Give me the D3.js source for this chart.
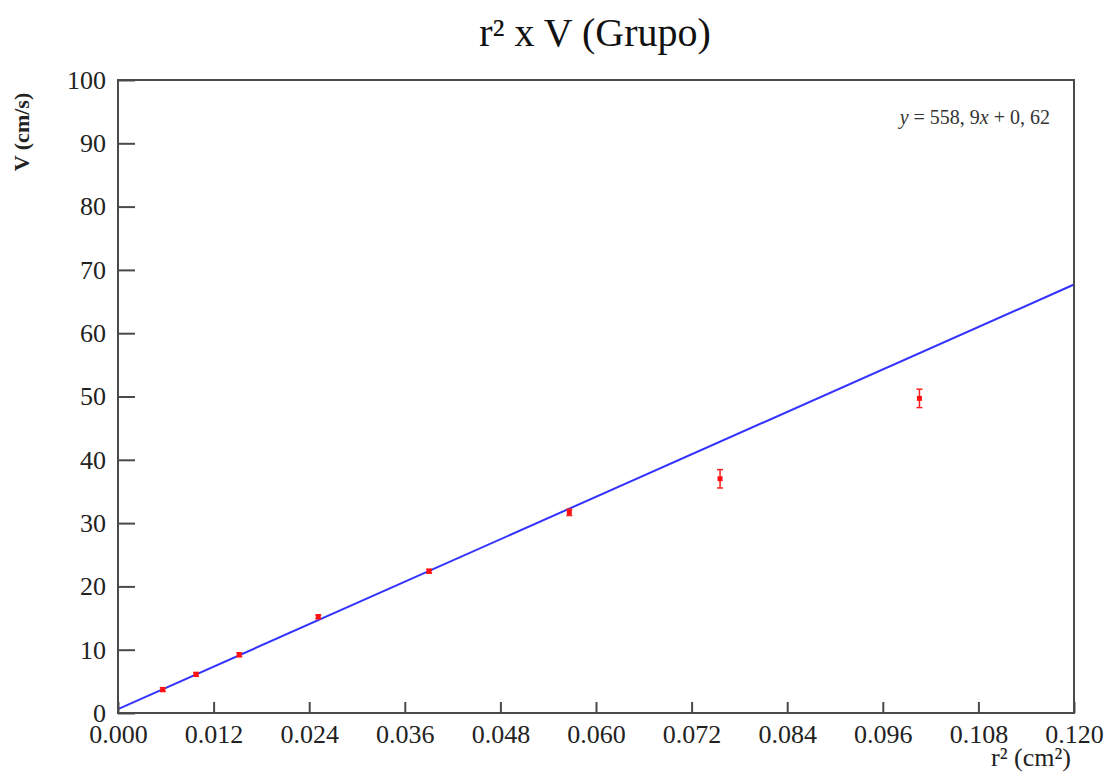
<!DOCTYPE html>
<html><head><meta charset="utf-8">
<script src="https://cdn.jsdelivr.net/npm/d3@7"></script>
<style>body{margin:0;background:#fff}svg{display:block}</style>
</head><body>
<svg id="chart" width="1107" height="772"></svg>
<script>
const rSquared = [0.00562, 0.00980, 0.01522, 0.02514, 0.03905, 0.05665, 0.07557, 0.10060];
const velocity = [3.7, 6.1, 9.2, 15.2, 22.4, 31.7, 37.0, 49.7];
const velocityErr = [0.3, 0.3, 0.3, 0.3, 0.3, 0.5, 1.45, 1.45];
const xTicks = [0, 0.012, 0.024, 0.036, 0.048, 0.060, 0.072, 0.084, 0.096, 0.108, 0.120];
const yTicks = [0, 10, 20, 30, 40, 50, 60, 70, 80, 90, 100];
const fitSlope = 558.9, fitIntercept = 0.62;

const svg = d3.select("#chart");
const L = 118, R = 1074, T = 80, B = 713;
const x = d3.scaleLinear().domain([0, 0.12]).range([L, R]);
const y = d3.scaleLinear().domain([0, 100]).range([B, T]);
const serif = "'Liberation Serif','Times New Roman',serif";
const frameCol = "#4a4a4a";

// fit line
svg.append("line")
  .attr("x1", x(0)).attr("y1", y(fitIntercept))
  .attr("x2", x(0.12)).attr("y2", y(fitSlope*0.12 + fitIntercept))
  .attr("stroke", "#3333ff").attr("stroke-width", 2);

// error bars and points
const pts = svg.append("g");
rSquared.forEach((rx, i) => {
  const cx = x(rx), vy = velocity[i], e = velocityErr[i];
  pts.append("line").attr("x1", cx).attr("x2", cx)
    .attr("y1", y(vy - e)).attr("y2", y(vy + e))
    .attr("stroke", "#ff2020").attr("stroke-width", 1.5);
  [vy - e, vy + e].forEach(v => pts.append("line")
    .attr("x1", cx - 3).attr("x2", cx + 3).attr("y1", y(v)).attr("y2", y(v))
    .attr("stroke", "#ff2020").attr("stroke-width", 1.5));
  pts.append("rect").attr("x", cx - 2.5).attr("y", y(vy) - 2.5)
    .attr("width", 5).attr("height", 5).attr("fill", "#ff1010");
});

// frame
svg.append("rect").attr("x", L).attr("y", T).attr("width", R - L).attr("height", B - T)
  .attr("fill", "none").attr("stroke", frameCol).attr("stroke-width", 2);

// axes
const xAxis = d3.axisBottom(x).tickValues(xTicks).tickSize(-11).tickPadding(12)
  .tickFormat(d3.format(".3f"));
const gx = svg.append("g").attr("transform", `translate(0,${B})`).call(xAxis);
const yAxis = d3.axisLeft(y).tickValues(yTicks).tickSize(-17).tickPadding(12);
const gy = svg.append("g").attr("transform", `translate(${L},0)`).call(yAxis);
[gx, gy].forEach(g => {
  g.select(".domain").remove();
  g.selectAll(".tick line").attr("stroke", frameCol).attr("stroke-width", 2);
  g.selectAll(".tick text").attr("font-family", serif).attr("font-size", 26).attr("fill", "#222");
});

// title
svg.append("text").attr("x", 595).attr("y", 46).attr("text-anchor", "middle")
  .attr("font-family", serif).attr("font-size", 40).attr("fill", "#111").text("r² x V (Grupo)");

// axis labels
svg.append("text").attr("transform", "translate(29,132) rotate(-90)").attr("text-anchor", "middle")
  .attr("font-family", serif).attr("font-size", 22).attr("font-weight", "bold").attr("fill", "#222")
  .text("V (cm/s)");
svg.append("text").attr("x", 1031).attr("y", 766).attr("text-anchor", "middle")
  .attr("font-family", serif).attr("font-size", 26).attr("fill", "#222").text("r² (cm²)");

// equation
const eq = svg.append("text").attr("x", 1050).attr("y", 124).attr("text-anchor", "end")
  .attr("font-family", serif).attr("font-size", 20).attr("fill", "#333");
eq.append("tspan").attr("font-style", "italic").text("y");
eq.append("tspan").text(" = 558, 9");
eq.append("tspan").attr("font-style", "italic").text("x");
eq.append("tspan").text(" + 0, 62");
</script>
</body></html>
